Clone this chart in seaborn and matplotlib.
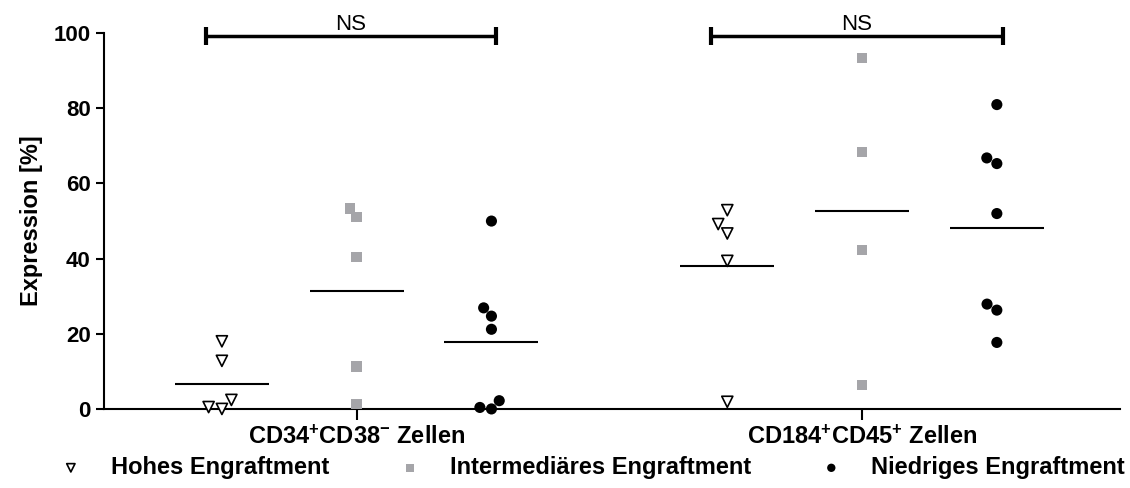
import numpy as np
import pandas as pd
import matplotlib
matplotlib.use("Agg")
import matplotlib.pyplot as plt
import seaborn as sns

# ---- data ----
categories = ["CD34$^{+}$CD38$^{-}$ Zellen", "CD184$^{+}$CD45$^{+}$ Zellen"]
groups = ["Hohes Engraftment", "Intermediäres Engraftment", "Niedriges Engraftment"]

cd34_hohes = [18.0, 12.8, 2.4, 0.0, 0.5]
cd34_inter = [53.3, 51.1, 40.5, 11.3, 1.3]
cd34_niedrig = [50.0, 26.9, 24.7, 21.2, 2.2, 0.0, 0.4]

cd184_hohes = [52.9, 49.2, 46.7, 39.4, 1.9]
cd184_inter = [93.4, 68.4, 42.3, 6.4]
cd184_niedrig = [81.0, 66.8, 65.3, 52.0, 27.9, 26.3, 17.7]

sig_label = "NS"

rows = []
for cat, vals_list in zip(categories, [[cd34_hohes, cd34_inter, cd34_niedrig],
                                       [cd184_hohes, cd184_inter, cd184_niedrig]]):
    for g, vals in zip(groups, vals_list):
        for v in vals:
            rows.append({"category": cat, "group": g, "value": v})
df = pd.DataFrame(rows)

# ---- style ----
sns.set_style("ticks")
plt.rcParams["font.family"] = ["Liberation Sans", "DejaVu Sans"]
plt.rcParams["mathtext.fontset"] = "custom"
plt.rcParams["mathtext.rm"] = "Liberation Sans:bold"
plt.rcParams["mathtext.bf"] = "Liberation Sans:bold"
plt.rcParams["mathtext.default"] = "rm"
for k in ["text.color", "axes.labelcolor", "xtick.color", "ytick.color", "axes.edgecolor"]:
    plt.rcParams[k] = "black"

fig = plt.figure(figsize=(11.3, 4.88), dpi=100)
ax = fig.add_axes([0.092, 0.162, 0.899, 0.770])

group_width = 0.8
styles = {
    groups[0]: dict(marker="v", face="white", edge="black", lw=1.2, size=8),
    groups[1]: dict(marker="s", face="#a5a5a9", edge="none", lw=0, size=7.5),
    groups[2]: dict(marker="o", face="black", edge="none", lw=0, size=8),
}

handles = []
for g in groups:
    st = styles[g]
    n_before = len(ax.collections)
    sns.swarmplot(data=df[df["group"] == g], x="category", y="value", hue="group",
                  order=categories, hue_order=groups, dodge=True,
                  palette={h: st["face"] for h in groups}, marker=st["marker"],
                  size=st["size"], edgecolor=st["edge"], linewidth=st["lw"],
                  legend=False, ax=ax)
    new = ax.collections[n_before:]
    filled = [c for c in new if len(c.get_offsets()) > 0]
    handles.append(filled[0])
    for c in new:
        if len(c.get_offsets()) == 0:
            c.remove()

sns.pointplot(data=df, x="category", y="value", hue="group", order=categories,
              hue_order=groups, dodge=group_width * 2 / 3, estimator="mean",
              errorbar=None, markers="_", linestyle="none",
              palette={h: "black" for h in groups}, markersize=67,
              markeredgewidth=1.5, legend=False, ax=ax)

for c in ax.collections:
    c.set_clip_on(False)
for l in ax.lines:
    l.set_clip_on(False)

ax.set_xlim(-0.5, 1.51)
ax.set_ylim(0, 100)
ax.set_yticks([0, 20, 40, 60, 80, 100])
ax.set_xlabel("")
ax.set_ylabel("Expression [%]", fontsize=17, fontweight="bold", labelpad=8)
ax.tick_params(axis="y", labelsize=16, width=1.5, length=6, color="black")
ax.tick_params(axis="x", labelsize=17, width=1.5, length=8, color="black", pad=4)
for lab in ax.get_yticklabels() + ax.get_xticklabels():
    lab.set_fontweight("bold")
for s in ["top", "right"]:
    ax.spines[s].set_visible(False)
for s in ["left", "bottom"]:
    ax.spines[s].set_linewidth(1.5)
    ax.spines[s].set_color("black")

# significance brackets (annotation)
bracket_spans = [(-0.298, 0.276), (0.702, 1.278)]
bracket_y = 99.2
for x0, x1 in bracket_spans:
    ax.plot([x0, x1], [bracket_y, bracket_y], color="black", lw=2.5, clip_on=False,
            solid_capstyle="butt")
    for xe in (x0, x1):
        ax.plot([xe, xe], [bracket_y - 2.4, bracket_y + 2.4], color="black", lw=3,
                clip_on=False, solid_capstyle="butt")
    ax.text((x0 + x1) / 2, bracket_y + 0.4, sig_label, ha="center", va="bottom",
            fontsize=16)

fig.legend(handles=handles, labels=groups, loc="center", bbox_to_anchor=(0.524, 0.042),
           ncol=3, frameon=False, prop={"size": 17, "weight": "bold"},
           columnspacing=2.9, handlelength=1.0, handletextpad=1.2, markerscale=0.75)

fig.savefig("out.png", dpi=100)
